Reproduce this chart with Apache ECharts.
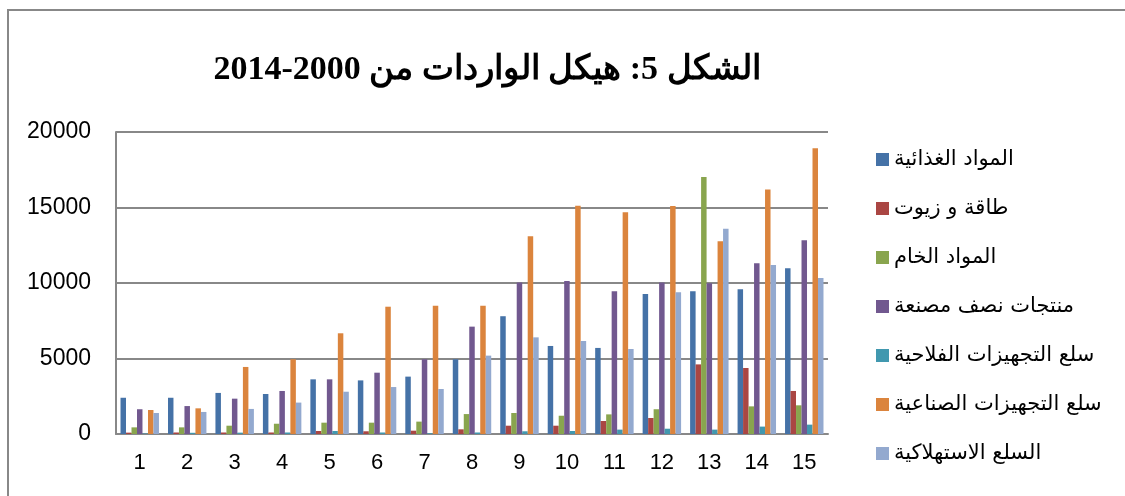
<!DOCTYPE html>
<html>
<head>
<meta charset="utf-8">
<script src="https://cdn.jsdelivr.net/npm/echarts@6/dist/echarts.min.js"></script>
<style>
  html, body { margin: 0; padding: 0; background: #fff; }
  #chart { width: 1125px; height: 496px; }
</style>
</head>
<body>
<div id="chart"></div>
<script>
"use strict";

var categories = ["1", "2", "3", "4", "5", "6", "7", "8", "9", "10", "11", "12", "13", "14", "15"];
var yTicks = [0, 5000, 10000, 15000, 20000];

var seriesNames = [
    "المواد الغذائية",
    "طاقة و زيوت",
    "المواد الخام",
    "منتجات نصف مصنعة",
    "سلع التجهيزات الفلاحية",
    "سلع التجهيزات الصناعية",
    "السلع الاستهلاكية"
];

var food        = [2400, 2400, 2720, 2650, 3620, 3550, 3800, 4950, 7800, 5830, 5700, 9270, 9450, 9580, 10970];
var energy      = [90, 100, 100, 100, 200, 180, 220, 310, 550, 550, 860, 1060, 4610, 4370, 2850];
var rawMat      = [440, 440, 550, 680, 750, 750, 820, 1320, 1390, 1210, 1300, 1640, 17020, 1830, 1900];
var semiFin     = [1640, 1850, 2340, 2850, 3620, 4060, 4950, 7110, 10040, 10130, 9450, 10040, 9980, 11300, 12830];
var agriEquip   = [30, 80, 90, 100, 200, 100, 50, 100, 180, 200, 290, 350, 290, 490, 620];
var indEquip    = [1590, 1700, 4440, 4950, 6670, 8430, 8500, 8500, 13090, 15120, 14680, 15100, 12760, 16200, 18920];
var consumer    = [1390, 1460, 1660, 2080, 2800, 3110, 2980, 5190, 6400, 6160, 5630, 9380, 13600, 11190, 10330];

var seriesData = [food, energy, rawMat, semiFin, agriEquip, indEquip, consumer];
var colors = ["#4572A7", "#AA4643", "#89A54E", "#71588F", "#4198AF", "#DB843D", "#93A9CF"];

var chart = echarts.init(document.getElementById("chart"), null, { renderer: "canvas" });

var series = seriesData.map(function (data, i) {
    return {
        name: seriesNames[i],
        type: "bar",
        data: data,
        barGap: "0%",
        barCategoryGap: "19%",
        itemStyle: { color: colors[i] }
    };
});

var option = {
    animation: false,
    backgroundColor: "#fff",
    title: {
        // the years come out reversed by the bidi rules, as in the original
        text: "الشكل 5: هيكل الواردات من 2000-2014",
        left: 482,
        top: 48,
        textAlign: "center",
        textStyle: {
            fontFamily: "'Liberation Serif', 'DejaVu Serif', serif",
            fontWeight: "bold",
            fontSize: 34,
            color: "#000"
        }
    },
    graphic: [{
        type: "rect",
        shape: { x: 8, y: 10, width: 1140, height: 520 },
        style: { fill: null, stroke: "#888", lineWidth: 2 },
        silent: true
    }],
    legend: {
        orient: "vertical",
        left: 871,
        top: 144,
        itemWidth: 13,
        itemHeight: 13,
        itemGap: 28,
        icon: "rect",
        textStyle: {
            fontFamily: "'DejaVu Sans', sans-serif",
            fontSize: 21,
            lineHeight: 20,
            color: "#000"
        },
        data: seriesNames
    },
    grid: {
        left: 116,
        right: 297,
        top: 132,
        bottom: 62
    },
    xAxis: {
        type: "category",
        data: categories,
        axisTick: { show: false },
        axisLine: { lineStyle: { color: "#888", width: 2 } },
        axisLabel: {
            margin: 18,
            fontFamily: "'Liberation Sans', sans-serif",
            fontSize: 22,
            color: "#000"
        }
    },
    yAxis: {
        type: "value",
        min: yTicks[0],
        max: yTicks[yTicks.length - 1],
        interval: 5000,
        axisLine: { show: true, lineStyle: { color: "#888", width: 2 } },
        axisTick: { show: false },
        splitLine: { lineStyle: { color: "#888", width: 2 } },
        axisLabel: {
            margin: 25,
            fontFamily: "'Liberation Sans', sans-serif",
            fontSize: 23,
            color: "#000",
            formatter: function (v) { return String(v); }
        }
    },
    series: series
};

chart.setOption(option);
</script>
</body>
</html>
